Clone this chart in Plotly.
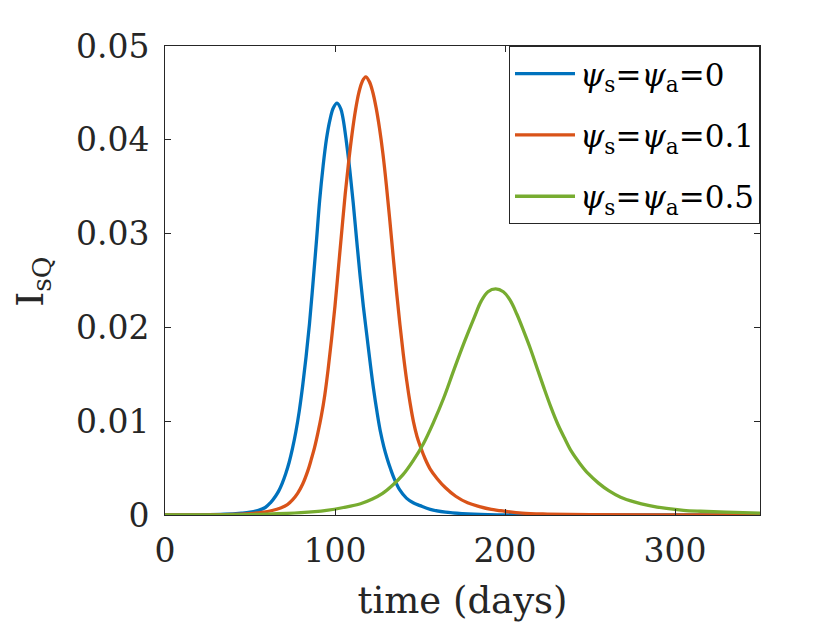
import plotly.graph_objects as go

# ---- data (time in days, I_sQ values) ----
blue_t = [0, 20, 35, 45, 50, 55, 59, 62, 65, 67, 69, 71, 73, 75, 77, 79, 81, 83, 85, 87, 89,
          91, 93, 95, 97, 99, 101.2, 103.4, 104.7, 106.7, 108.7, 110.7, 112.7, 114.7, 116.7,
          118.7, 120.7, 122.7, 124.7, 126.7, 128.7, 130.7, 132.7, 135, 138, 142, 146, 150,
          156, 165, 175, 190, 220, 260, 300, 350]
blue_v = [0, 0.00002, 0.00008, 0.0002, 0.0003, 0.0005, 0.0008, 0.0013, 0.0020, 0.0026, 0.0034,
          0.0044, 0.0056, 0.0071, 0.0089, 0.0111, 0.0138, 0.0169, 0.0204, 0.0246, 0.0290,
          0.0336, 0.0372, 0.0401, 0.0421, 0.0434, 0.0439, 0.0433, 0.0423, 0.0398, 0.0368,
          0.0333, 0.0294, 0.0256, 0.0222, 0.0192, 0.0162, 0.0134, 0.0110, 0.0089, 0.0073,
          0.0060, 0.0049, 0.0038, 0.0027, 0.0018, 0.0013, 0.0010, 0.0006, 0.0003, 0.00015,
          0.00005, 0.00001, 0, 0, 0]

orange_t = [0, 25, 40, 50, 57, 63, 68, 72, 75, 78, 81, 84, 86, 88, 90, 92, 94, 96, 98, 100,
            102, 104, 106, 108, 110, 112, 114, 116, 118.1, 120.2, 122.2, 124.2, 126.2, 128.2,
            130.2, 132.2, 134.2, 136.2, 138.2, 140.2, 142.2, 144.2, 146.2, 148.2, 150.2, 153,
            156, 160, 165, 171, 178, 185, 192, 200, 210, 225, 250, 290, 350]
orange_v = [0, 0.00002, 0.00006, 0.00015, 0.00028, 0.00048, 0.00075, 0.0011, 0.0016, 0.0023,
            0.0033, 0.0047, 0.0059, 0.0072, 0.0088, 0.0106, 0.0128, 0.0156, 0.0188, 0.0223,
            0.0263, 0.0303, 0.0342, 0.0376, 0.0406, 0.0431, 0.0450, 0.0462, 0.0467, 0.0462,
            0.0451, 0.0434, 0.0412, 0.0385, 0.0352, 0.0315, 0.0276, 0.0238, 0.0203, 0.0171,
            0.0143, 0.0119, 0.0099, 0.0084, 0.0073, 0.0060, 0.0049, 0.0039, 0.0029, 0.0020,
            0.0013, 0.0009, 0.0006, 0.0004, 0.0002, 0.0001, 0.00003, 0.00001, 0]

green_t = [0, 30, 60, 80, 95, 105, 115, 122, 128, 134, 140, 146, 152, 158, 164, 170, 176, 182,
           186, 190, 194.5, 199, 203, 207, 211, 215, 219, 223, 227, 231, 235, 239, 244, 249,
           255, 261, 268, 276, 285, 295, 305, 315, 330, 350]
green_v = [0, 0.00002, 0.0001, 0.00025, 0.0005, 0.0008, 0.0012, 0.0017, 0.0023, 0.0032, 0.0043,
           0.0058, 0.0076, 0.0099, 0.0125, 0.0155, 0.0184, 0.0211, 0.0228, 0.0238, 0.0241,
           0.0238, 0.0229, 0.0214, 0.0196, 0.0177, 0.0156, 0.0135, 0.0115, 0.0097, 0.0082,
           0.0068, 0.0055, 0.0044, 0.0034, 0.0026, 0.0019, 0.0014, 0.0010, 0.0007, 0.0005,
           0.0004, 0.0003, 0.0002]

series_names = ["<i>ψ</i><sub>s</sub>=<i>ψ</i><sub>a</sub>=0",
                "<i>ψ</i><sub>s</sub>=<i>ψ</i><sub>a</sub>=0.1",
                "<i>ψ</i><sub>s</sub>=<i>ψ</i><sub>a</sub>=0.5"]

x_ticks = [0, 100, 200, 300]
x_tick_labels = ["0", "100", "200", "300"]
y_ticks = [0, 0.01, 0.02, 0.03, 0.04, 0.05]
y_tick_labels = ["0", "0.01", "0.02", "0.03", "0.04", "0.05"]
y_label = "I<sub>sQ</sub>"
x_label = "time (days)"

colors = ["#0072BD", "#D95319", "#77AC30"]
FONT = "DejaVu Serif"
AX = "#262626"

fig = go.Figure()
for i, (t, v) in enumerate([(blue_t, blue_v), (orange_t, orange_v), (green_t, green_v)]):
    fig.add_trace(go.Scatter(
        x=t, y=v, mode="lines", name=series_names[i],
        line=dict(color=colors[i], width=3.3, shape="spline", smoothing=1.0),
        legendgroup=f"g{i}",
    ))

axis_common = dict(
    showline=True, linecolor=AX, linewidth=1, mirror="ticks",
    ticks="inside", ticklen=6, tickcolor=AX, tickwidth=1,
    showgrid=False, zeroline=False,
    tickfont=dict(family=FONT, size=33, color=AX),
)

fig.update_layout(
    width=840, height=630, autosize=False,
    margin=dict(l=157, r=88, t=38, b=123),
    paper_bgcolor="white", plot_bgcolor="white",
    xaxis=dict(range=[0, 350], tickvals=x_ticks, ticktext=x_tick_labels,
               ticklabelstandoff=6,
               title=dict(text=x_label, font=dict(family=FONT, size=37, color=AX),
                          standoff=18),
               **axis_common),
    yaxis=dict(range=[0, 0.05], tickvals=y_ticks, ticktext=y_tick_labels,
               ticklabelstandoff=8,
               **axis_common),
    legend=dict(x=1, y=1, xanchor="right", yanchor="top",
                bgcolor="white", bordercolor=AX, borderwidth=1,
                font=dict(family=FONT, size=31, color="black"),
                traceorder="grouped", tracegroupgap=18, itemwidth=60),
    showlegend=True,
    annotations=[dict(text=y_label, textangle=-90, xref="paper", yref="paper",
                      x=-0.222, y=0.497, xanchor="center", yanchor="middle",
                      showarrow=False, font=dict(family=FONT, size=38, color=AX))],
)

fig.write_html("out.html")
